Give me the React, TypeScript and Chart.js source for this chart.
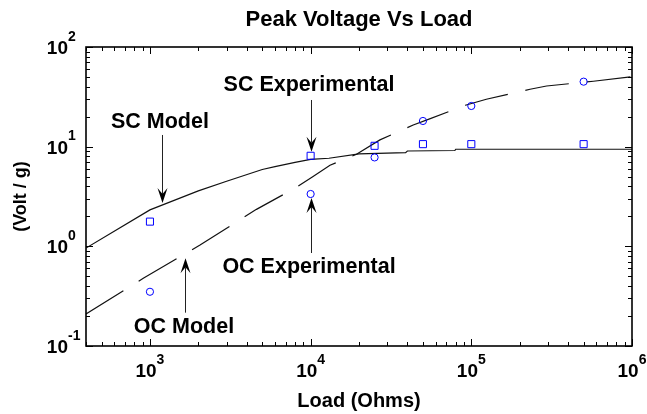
import React, { useEffect, useRef } from 'react';
import { Chart, registerables } from 'chart.js';

Chart.register(...registerables);

const TITLE = 'Peak Voltage Vs Load';
const X_TITLE = 'Load (Ohms)';
const Y_TITLE = '(Volt / g)';

const SC_MODEL_X = [400, 1000, 2000, 3000, 5000, 6000, 8000, 10000, 13000, 20000, 39000, 40000, 79000, 80000, 1000000];
const SC_MODEL_Y = [0.96, 2.32, 3.6, 4.5, 5.9, 6.3, 6.95, 7.45, 7.65, 8.45, 8.7, 9.05, 9.15, 9.42, 9.42];

const OC_MODEL_X = [400, 909, 1650, 2050, 4600, 7800, 10300, 13200, 19300, 27000, 43500, 54000, 93000, 124000, 232000, 294000, 575000, 1000000];
const OC_MODEL_Y = [0.21, 0.478, 0.84, 1.03, 2.35, 3.75, 5.0, 6.5, 8.4, 11.7, 16.5, 18.8, 26.2, 29.9, 37.7, 40.6, 45.3, 50.4];

const EXP_X = [1000, 10000, 25000, 50000, 100000, 500000];
const SC_EXP_Y = [1.77, 8.1, 10.2, 10.6, 10.6, 10.6];
const OC_EXP_Y = [0.35, 3.35, 7.8, 18.1, 25.6, 44.9];

const X_TICKS = [1000, 10000, 100000, 1000000];
const X_TICK_EXP = ['3', '4', '5', '6'];
const Y_TICKS = [0.1, 1, 10, 100];
const Y_TICK_EXP = ['-1', '0', '1', '2'];

const X_MIN = 400;
const X_MAX = 1000000;
const Y_MIN = 0.1;
const Y_MAX = 100;

// annotation label + arrow, anchored in data coordinates
const ANNOTATIONS = [
  { text: 'SC Model', tx: 1153, ty: 17.6, ax: 1183, from: 13.1, to: 2.72 },
  { text: 'SC Experimental', tx: 9770, ty: 41.5, ax: 10000, from: 29.4, to: 8.9 },
  { text: 'OC Experimental', tx: 9770, ty: 0.62, ax: 10100, from: 0.857, to: 3.05 },
  { text: 'OC Model', tx: 1629, ty: 0.155, ax: 1652, from: 0.216, to: 0.759 },
];

const FONT = '"Liberation Sans", Arial, sans-serif';

function drawArrow(ctx: CanvasRenderingContext2D, x: number, y0: number, y1: number) {
  const dir = Math.sign(y1 - y0);
  const L = 15, W = 5, N = 9;
  ctx.beginPath();
  ctx.moveTo(x, y0);
  ctx.lineTo(x, y1 - dir * N);
  ctx.stroke();
  ctx.beginPath();
  ctx.moveTo(x, y1);
  ctx.lineTo(x - W, y1 - dir * L);
  ctx.lineTo(x, y1 - dir * N);
  ctx.lineTo(x + W, y1 - dir * L);
  ctx.closePath();
  ctx.fill();
}

const decorPlugin = {
  id: 'decor',
  afterDraw(chart: any) {
    const { ctx, chartArea: a, scales } = chart;
    const xs = scales.x;
    const ys = scales.y;
    ctx.save();
    ctx.strokeStyle = '#000';
    ctx.fillStyle = '#000';
    // ticks (inward, all four sides)
    ctx.lineWidth = 1;
    ctx.beginPath();
    for (let d = 2; d <= 6; d++) {
      for (let m = 1; m < 10; m++) {
        const v = m * Math.pow(10, d);
        if (v < X_MIN || v > X_MAX) continue;
        const px = Math.round(xs.getPixelForValue(v)) + 0.5;
        const len = m === 1 ? 7 : 4;
        ctx.moveTo(px, a.bottom);
        ctx.lineTo(px, a.bottom - len);
        ctx.moveTo(px, a.top);
        ctx.lineTo(px, a.top + len);
      }
    }
    for (let d = -1; d <= 2; d++) {
      for (let m = 1; m < 10; m++) {
        const v = m * Math.pow(10, d);
        if (v < Y_MIN - 1e-9 || v > Y_MAX + 1e-9) continue;
        const py = Math.round(ys.getPixelForValue(v)) + 0.5;
        const len = m === 1 ? 7 : 4;
        ctx.moveTo(a.left, py);
        ctx.lineTo(a.left + len, py);
        ctx.moveTo(a.right, py);
        ctx.lineTo(a.right - len, py);
      }
    }
    ctx.stroke();
    // frame
    ctx.lineWidth = 1.6;
    ctx.strokeRect(a.left, a.top, a.right - a.left, a.bottom - a.top);

    // tick labels
    const big = `bold 19px ${FONT}`;
    const small = `bold 14px ${FONT}`;
    ctx.textBaseline = 'alphabetic';
    X_TICKS.forEach((v, i) => {
      const px = xs.getPixelForValue(v);
      ctx.font = big;
      const w1 = ctx.measureText('10').width;
      ctx.font = small;
      const w2 = ctx.measureText(X_TICK_EXP[i]).width;
      const start = px - (w1 + w2) / 2;
      ctx.font = big;
      ctx.textAlign = 'left';
      ctx.fillText('10', start, a.bottom + 31);
      ctx.font = small;
      ctx.fillText(X_TICK_EXP[i], start + w1, a.bottom + 18);
    });
    Y_TICKS.forEach((v, i) => {
      const py = ys.getPixelForValue(v);
      ctx.font = big;
      ctx.textAlign = 'right';
      ctx.fillText('10', a.left - 18, py + 7);
      ctx.font = small;
      ctx.textAlign = 'left';
      ctx.fillText(Y_TICK_EXP[i], a.left - 18, py - 6.5);
    });

    // annotations
    ctx.font = `bold 21.5px ${FONT}`;
    ctx.textAlign = 'center';
    ctx.textBaseline = 'middle';
    ctx.lineWidth = 1;
    ANNOTATIONS.forEach((an) => {
      ctx.fillStyle = '#000';
      ctx.fillText(an.text, xs.getPixelForValue(an.tx), ys.getPixelForValue(an.ty));
      ctx.strokeStyle = '#222';
      ctx.fillStyle = '#000';
      const ax = Math.round(xs.getPixelForValue(an.ax)) + 0.5;
      drawArrow(ctx, ax, ys.getPixelForValue(an.from), ys.getPixelForValue(an.to));
    });
    ctx.restore();
  },
};

export default function App() {
  const canvasRef = useRef<HTMLCanvasElement | null>(null);

  useEffect(() => {
    document.body.style.margin = '0';
    const canvas = canvasRef.current;
    if (!canvas) return;
    const toPts = (xs: number[], ys: number[]) => xs.map((x, i) => ({ x, y: ys[i] }));
    const chart = new Chart(canvas, {
      type: 'scatter',
      data: {
        datasets: [
          {
            label: 'SC Experimental',
            data: toPts(EXP_X, SC_EXP_Y),
            showLine: false,
            pointStyle: 'rect',
            pointRadius: 5,
            borderColor: '#0000ff',
            backgroundColor: 'rgba(0,0,0,0)',
            borderWidth: 1,
          },
          {
            label: 'OC Experimental',
            data: toPts(EXP_X, OC_EXP_Y),
            showLine: false,
            pointStyle: 'circle',
            pointRadius: 3.6,
            borderColor: '#0000ff',
            backgroundColor: 'rgba(0,0,0,0)',
            borderWidth: 1,
          },
          {
            label: 'SC Model',
            data: toPts(SC_MODEL_X, SC_MODEL_Y),
            showLine: true,
            pointRadius: 0,
            borderColor: '#111',
            borderWidth: 1.2,
            tension: 0,
          },
          {
            label: 'OC Model',
            data: toPts(OC_MODEL_X, OC_MODEL_Y),
            showLine: true,
            pointRadius: 0,
            borderColor: '#111',
            borderWidth: 1.2,
            borderDash: [44, 18],
            tension: 0,
          },
        ],
      },
      options: {
        animation: false,
        responsive: true,
        maintainAspectRatio: false,
        layout: { padding: { left: 0, right: 15, top: 0, bottom: 0 } },
        plugins: {
          legend: { display: false },
          tooltip: { enabled: false },
          title: {
            display: true,
            fullSize: false,
            text: TITLE,
            color: '#000',
            font: { family: FONT, size: 22, weight: 'bold' },
            padding: { top: 6.8, bottom: 13.8 },
          },
        },
        scales: {
          x: {
            type: 'logarithmic',
            min: X_MIN,
            max: X_MAX,
            grid: { display: false, drawTicks: false, tickLength: 0 },
            border: { display: false },
            ticks: { display: false },
            title: {
              display: true,
              text: X_TITLE,
              color: '#000',
              font: { family: FONT, size: 20, weight: 'bold' },
              padding: { top: 43, bottom: 1 },
            },
          },
          y: {
            type: 'logarithmic',
            min: Y_MIN,
            max: Y_MAX,
            grid: { display: false, drawTicks: false, tickLength: 0 },
            border: { display: false },
            ticks: { display: false },
            title: {
              display: true,
              text: Y_TITLE,
              color: '#000',
              font: { family: FONT, size: 18, weight: 'bold' },
              padding: { top: 10.2, bottom: 54.2 },
            },
          },
        },
      },
      plugins: [decorPlugin],
    });
    return () => chart.destroy();
  }, []);

  return (
    <div style={{ position: 'fixed', left: 0, top: 0, width: 647, height: 414, background: '#fff' }}>
      <canvas ref={canvasRef} />
    </div>
  );
}
